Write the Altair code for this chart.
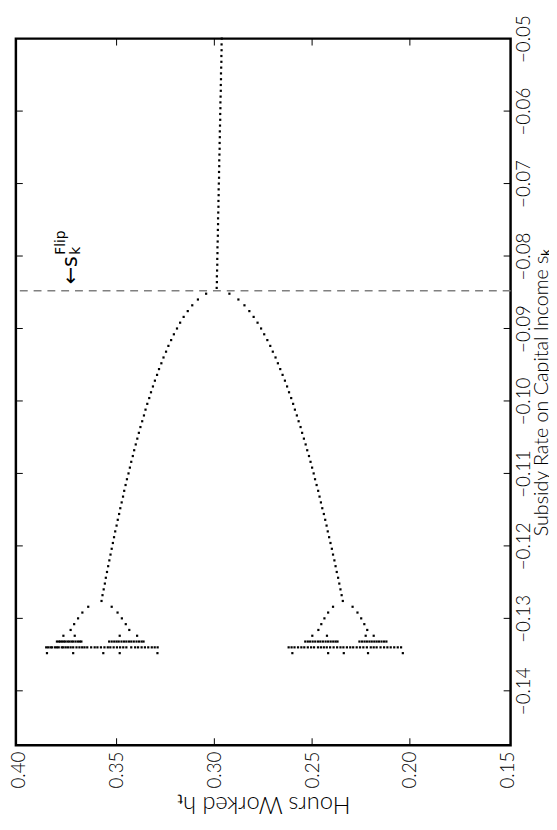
import altair as alt
import pandas as pd

# ---------------- axis values ----------------
h_tick_values = [0.40, 0.35, 0.30, 0.25, 0.20, 0.15]
s_tick_values = [-0.05, -0.06, -0.07, -0.08, -0.09, -0.10, -0.11, -0.12, -0.13, -0.14]
h_inner_ticks = [0.35, 0.30, 0.25, 0.20]
s_inner_ticks = [-0.06, -0.07, -0.08, -0.09, -0.10, -0.11, -0.12, -0.13, -0.14]
h_domain = [0.1485, 0.4015]
s_domain = [-0.1475, -0.05]

s_flip = -0.0848

# ---------------- period-1 segment ----------------
s_p1 = [-0.0500, -0.0508, -0.0516, -0.0524, -0.0532, -0.0540, -0.0548, -0.0556, -0.0564, -0.0572,
        -0.0580, -0.0588, -0.0596, -0.0604, -0.0612, -0.0620, -0.0628, -0.0636, -0.0644, -0.0652,
        -0.0660, -0.0668, -0.0676, -0.0684, -0.0692, -0.0700, -0.0708, -0.0716, -0.0724, -0.0732,
        -0.0740, -0.0748, -0.0756, -0.0764, -0.0772, -0.0780, -0.0788, -0.0796, -0.0804, -0.0812,
        -0.0820, -0.0828, -0.0836, -0.0844]
h_p1 = [0.2962, 0.2963, 0.2963, 0.2964, 0.2964, 0.2965, 0.2966, 0.2966, 0.2967, 0.2967,
        0.2968, 0.2969, 0.2969, 0.2970, 0.2970, 0.2971, 0.2972, 0.2972, 0.2973, 0.2973,
        0.2974, 0.2975, 0.2975, 0.2976, 0.2976, 0.2977, 0.2978, 0.2978, 0.2979, 0.2979,
        0.2980, 0.2981, 0.2981, 0.2982, 0.2982, 0.2983, 0.2984, 0.2984, 0.2985, 0.2985,
        0.2986, 0.2987, 0.2987, 0.2988]

# ---------------- period-2 branches ----------------
s_p2 = [-0.0852, -0.0860, -0.0868, -0.0876, -0.0884, -0.0892, -0.0900, -0.0908, -0.0916, -0.0924,
        -0.0932, -0.0940, -0.0948, -0.0956, -0.0964, -0.0972, -0.0980, -0.0988, -0.0996, -0.1004,
        -0.1012, -0.1020, -0.1028, -0.1036, -0.1044, -0.1052, -0.1060, -0.1068, -0.1076, -0.1084,
        -0.1092, -0.1100, -0.1108, -0.1116, -0.1124, -0.1132, -0.1140, -0.1148, -0.1156, -0.1164,
        -0.1172, -0.1180, -0.1188, -0.1196, -0.1204, -0.1212, -0.1220, -0.1228, -0.1236, -0.1244,
        -0.1252, -0.1260, -0.1268, -0.1276]
h_p2_high = [0.3042, 0.3084, 0.3113, 0.3136, 0.3157, 0.3175, 0.3191, 0.3207, 0.3221, 0.3235,
             0.3247, 0.3260, 0.3271, 0.3283, 0.3293, 0.3304, 0.3314, 0.3324, 0.3333, 0.3343,
             0.3352, 0.3360, 0.3369, 0.3378, 0.3386, 0.3394, 0.3402, 0.3410, 0.3417, 0.3425,
             0.3432, 0.3439, 0.3447, 0.3454, 0.3461, 0.3467, 0.3474, 0.3481, 0.3487, 0.3494,
             0.3500, 0.3507, 0.3513, 0.3519, 0.3525, 0.3531, 0.3537, 0.3543, 0.3549, 0.3555,
             0.3560, 0.3566, 0.3572, 0.3577]
h_p2_low = [0.2923, 0.2877, 0.2846, 0.2821, 0.2799, 0.2779, 0.2761, 0.2745, 0.2729, 0.2714,
            0.2701, 0.2687, 0.2675, 0.2663, 0.2651, 0.2639, 0.2628, 0.2618, 0.2607, 0.2597,
            0.2588, 0.2578, 0.2569, 0.2559, 0.2551, 0.2542, 0.2533, 0.2525, 0.2516, 0.2508,
            0.2500, 0.2492, 0.2485, 0.2477, 0.2469, 0.2462, 0.2455, 0.2448, 0.2440, 0.2433,
            0.2426, 0.2420, 0.2413, 0.2406, 0.2399, 0.2393, 0.2386, 0.2380, 0.2374, 0.2367,
            0.2361, 0.2355, 0.2349, 0.2343]

# ---------------- period-4 branches ----------------
s_p4 = [-0.1284, -0.1292, -0.1300, -0.1308, -0.1316]
h_p4_a = [0.3645, 0.3675, 0.3697, 0.3717, 0.3735]
h_p4_b = [0.3525, 0.3495, 0.3473, 0.3453, 0.3435]
h_p4_c = [0.2393, 0.2418, 0.2437, 0.2453, 0.2468]
h_p4_d = [0.2293, 0.2268, 0.2249, 0.2233, 0.2218]

# ---------------- period-8, bands, chaos ----------------
s_p8 = -0.1324
h_p8 = [0.3772, 0.3714, 0.3484, 0.3395, 0.2499, 0.2424, 0.2226, 0.2185]

s_band = -0.1332
h_band = [0.3805, 0.3795, 0.3788, 0.3779, 0.3770, 0.3762, 0.3751, 0.3742, 0.3731, 0.3722,
          0.3710, 0.3698, 0.3688, 0.3680,
          0.3538, 0.3525, 0.3512, 0.3500, 0.3489, 0.3475, 0.3462, 0.3450, 0.3437, 0.3425,
          0.3412, 0.3398, 0.3385, 0.3372, 0.3362,
          0.2535, 0.2522, 0.2510, 0.2497, 0.2484, 0.2470, 0.2458, 0.2445, 0.2431, 0.2418,
          0.2405, 0.2392, 0.2380, 0.2370,
          0.2258, 0.2245, 0.2232, 0.2220, 0.2207, 0.2195, 0.2182, 0.2170, 0.2158, 0.2145,
          0.2132, 0.2120]

s_row = -0.1340
h_row = [0.3860, 0.3850, 0.3838, 0.3830, 0.3815, 0.3805, 0.3796, 0.3780, 0.3772, 0.3760,
         0.3748, 0.3735, 0.3722, 0.3705, 0.3690, 0.3676, 0.3664, 0.3650, 0.3630, 0.3612,
         0.3598, 0.3580, 0.3562, 0.3545, 0.3532, 0.3515, 0.3498, 0.3482, 0.3466, 0.3450,
         0.3425, 0.3405, 0.3390, 0.3372, 0.3355, 0.3338, 0.3320, 0.3305, 0.3290,
         0.2620, 0.2605, 0.2590, 0.2572, 0.2555, 0.2540, 0.2522, 0.2505, 0.2490, 0.2470,
         0.2455, 0.2440, 0.2425, 0.2408, 0.2390, 0.2372, 0.2355, 0.2340, 0.2322, 0.2305,
         0.2290, 0.2272, 0.2255, 0.2238, 0.2220, 0.2200, 0.2185, 0.2170, 0.2150, 0.2132,
         0.2115, 0.2098, 0.2080, 0.2062, 0.2045]

s_last = -0.1348
h_last = [0.3856, 0.3722, 0.3568, 0.3484, 0.3291, 0.2601, 0.2418, 0.2338, 0.2214, 0.2036]

# ---------------- build table ----------------
rows = []
rows += [{"s": s, "h": h} for s, h in zip(s_p1, h_p1)]
rows += [{"s": s, "h": h} for s, h in zip(s_p2, h_p2_high)]
rows += [{"s": s, "h": h} for s, h in zip(s_p2, h_p2_low)]
for branch in (h_p4_a, h_p4_b, h_p4_c, h_p4_d):
    rows += [{"s": s, "h": h} for s, h in zip(s_p4, branch)]
rows += [{"s": s_p8, "h": h} for h in h_p8]
rows += [{"s": s_band, "h": h} for h in h_band]
rows += [{"s": s_row, "h": h} for h in h_row]
rows += [{"s": s_last, "h": h} for h in h_last]
df = pd.DataFrame(rows)

W, H = 502, 717
FONT = "Lato"

xs = alt.Scale(domain=h_domain, reverse=True, nice=False, zero=False)
ys = alt.Scale(domain=s_domain, nice=False, zero=False)

x_axis = alt.Axis(values=h_tick_values, format=".2f", ticks=False, domain=False, grid=False,
                  labelAngle=270, labelAlign="right", labelBaseline="middle", labelPadding=6,
                  labelFontSize=19, labelFont=FONT, labelFontWeight=300, labelColor="black",
                  title="Hours Worked hₜ", titleAngle=180, titleBaseline="bottom",
                  titleFontSize=24, titleFont=FONT, titleFontWeight=300, titleColor="black",
                  titlePadding=4, labelFlush=False, labelOverlap=False)
y_axis = alt.Axis(orient="right", values=s_tick_values, format=".2f", ticks=False, domain=False,
                  grid=False, labelAngle=270, labelAlign="center", labelBaseline="top",
                  labelPadding=4, labelFontSize=19, labelFont=FONT, labelFontWeight=300,
                  labelColor="black", title="Subsidy Rate on Capital Income sₖ", titleAngle=270,
                  titleBaseline="middle", titleAlign="center", titleX=31, titleY=H / 2,
                  titleFontSize=20, titleFont=FONT, titleFontWeight=300,
                  titleColor="black", labelFlush=False, labelOverlap=False)

XH = alt.X("h:Q", scale=xs, axis=x_axis)
YS = alt.Y("s:Q", scale=ys, axis=y_axis)

points = alt.Chart(df).mark_square(size=5, color="black", opacity=1).encode(x=XH, y=YS)

flip_df = pd.DataFrame({"s": [s_flip]})
flip_rule = alt.Chart(flip_df).mark_rule(color="#808080", strokeWidth=1.5,
                                         strokeDash=[8, 6]).encode(y=YS)

# inward ticks on all four sides
ht = pd.DataFrame({"h": h_inner_ticks})
st = pd.DataFrame({"s": s_inner_ticks})
tick_top = alt.Chart(ht).mark_rule(color="black", strokeWidth=1).encode(
    x=XH, y=alt.value(0), y2=alt.value(7))
tick_bottom = alt.Chart(ht).mark_rule(color="black", strokeWidth=1).encode(
    x=XH, y=alt.value(H - 7), y2=alt.value(H))
tick_left = alt.Chart(st).mark_rule(color="black", strokeWidth=1).encode(
    y=YS, x=alt.value(0), x2=alt.value(7))
tick_right = alt.Chart(st).mark_rule(color="black", strokeWidth=1).encode(
    y=YS, x=alt.value(W - 7), x2=alt.value(W))

# annotation  "← s_k^Flip"  (rotated like the rest of the figure;
# dx runs along the text, dy across it, before rotation)
ann_h = 0.3735
ann_s = -0.0839
ann_df = pd.DataFrame({"h": [ann_h], "s": [ann_s]})
AFONT = "DejaVu Sans"
ann_main = alt.Chart(ann_df).mark_text(text="←s", angle=270, align="left", baseline="middle",
                                       fontSize=21, font=AFONT, color="black").encode(x=XH, y=YS)
ann_sub = alt.Chart(ann_df).mark_text(text="k", angle=270, align="left", baseline="middle",
                                      fontSize=14, font=AFONT, color="black",
                                      dx=30, dy=5).encode(x=XH, y=YS)
ann_sup = alt.Chart(ann_df).mark_text(text="Flip", angle=270, align="left", baseline="middle",
                                      fontSize=14, font=AFONT, color="black",
                                      dx=30, dy=-10).encode(x=XH, y=YS)

chart = alt.layer(
    flip_rule, points, tick_top, tick_bottom, tick_left, tick_right, ann_main, ann_sub, ann_sup
).properties(
    width=W, height=H,
    autosize=alt.AutoSizeParams(type="none"),
    padding={"left": 8, "top": 25, "right": 39, "bottom": 80},
    background="white",
).configure_view(stroke="black", strokeWidth=2.5)

chart.save("out.html", embed_options={"renderer": "svg", "actions": False})
